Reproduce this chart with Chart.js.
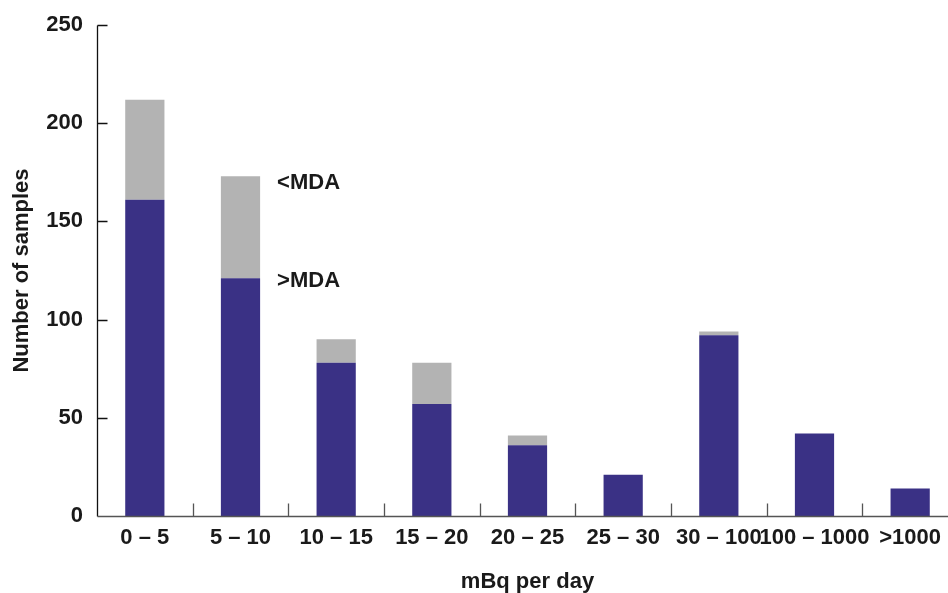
<!DOCTYPE html>
<html>
<head>
<meta charset="utf-8">
<script src="https://cdn.jsdelivr.net/npm/chart.js@4/dist/chart.umd.min.js"></script>
<style>
  html, body { margin: 0; padding: 0; background: #fff; overflow: hidden; width: 948px; height: 593px; }
  #wrap { width: 958px; height: 593px; }
</style>
</head>
<body>
<div id="wrap"><canvas id="c" width="958" height="593"></canvas></div>
<script>
// Daily excretion ranges (mBq per day)
const categories = ['0 – 5', '5 – 10', '10 – 15', '15 – 20', '20 – 25', '25 – 30', '30 – 100', '100 – 1000', '>1000'];
// Samples above the minimum detectable activity
const aboveMda = [161, 121, 78, 57, 36, 21, 92, 42, 14];
// Samples below the minimum detectable activity (stacked on top)
const belowMda = [51, 52, 12, 21, 5, 0, 2, 0, 0];
const yTicks = [0, 50, 100, 150, 200, 250];

const TEXT = '#1a1a1a';
const FONT = { family: '"Liberation Sans", Arial, Helvetica, sans-serif', size: 22, weight: 'bold', lineHeight: 1 };

// Axis lines with inward-pointing tick marks
const axisMarks = {
  id: 'axisMarks',
  afterDatasetsDraw(chart) {
    const { ctx, chartArea: a, scales: { x, y } } = chart;
    const L = Math.round(a.left) + 0.5;
    const B = Math.round(a.bottom) + 0.5;
    ctx.save();
    ctx.lineWidth = 1.3;
    ctx.strokeStyle = '#111';
    ctx.beginPath();
    ctx.moveTo(L, Math.round(y.getPixelForValue(yTicks[yTicks.length - 1])) + 0.5);
    ctx.lineTo(L, B);
    y.ticks.forEach(t => {
      if (t.value === 0) return;
      const py = Math.round(y.getPixelForValue(t.value)) + 0.5;
      ctx.moveTo(L, py);
      ctx.lineTo(L + 10, py);
    });
    ctx.stroke();

    ctx.strokeStyle = '#555';
    ctx.beginPath();
    ctx.moveTo(L, B);
    ctx.lineTo(a.right, B);
    for (let i = 0; i < categories.length - 1; i++) {
      const px = Math.round((x.getPixelForValue(i) + x.getPixelForValue(i + 1)) / 2) + 0.5;
      ctx.moveTo(px, B);
      ctx.lineTo(px, B - 13);
    }
    ctx.stroke();
    ctx.restore();
  }
};

// Series names written beside the second bar's segments
const segmentLabels = {
  id: 'segmentLabels',
  afterDatasetsDraw(chart) {
    const { ctx } = chart;
    const idx = 1;
    const lower = chart.getDatasetMeta(0).data[idx];
    const upper = chart.getDatasetMeta(1).data[idx];
    ctx.save();
    ctx.fillStyle = TEXT;
    ctx.font = `${FONT.weight} ${FONT.size}px ${FONT.family}`;
    ctx.textAlign = 'left';
    ctx.textBaseline = 'middle';
    ctx.fillText(chart.data.datasets[1].label, upper.x + upper.width / 2 + 17, upper.y + 7);
    ctx.fillText(chart.data.datasets[0].label, lower.x + lower.width / 2 + 17, lower.y + 3);
    ctx.restore();
  }
};

new Chart(document.getElementById('c'), {
  type: 'bar',
  data: {
    labels: categories,
    datasets: [
      { label: '>MDA', data: aboveMda, backgroundColor: '#3a3185', stack: 's' },
      { label: '<MDA', data: belowMda, backgroundColor: '#b3b3b3', stack: 's' }
    ]
  },
  options: {
    responsive: false,
    animation: false,
    devicePixelRatio: 1,
    layout: { padding: { top: 24, left: 0, right: 0, bottom: 0 } },
    plugins: { legend: { display: false }, tooltip: { enabled: false } },
    datasets: { bar: { barPercentage: 0.41, categoryPercentage: 1 } },
    scales: {
      x: {
        stacked: true,
        grid: { display: false, drawTicks: false },
        border: { display: false },
        ticks: { autoSkip: false, maxRotation: 0, minRotation: 0, padding: 11, color: TEXT, font: FONT },
        title: { display: true, text: 'mBq per day', color: TEXT, font: FONT, padding: { top: 0, bottom: 0 } },
        afterFit(s) { s.height = 77; }
      },
      y: {
        stacked: true,
        min: 0,
        max: 250,
        grid: { display: false, drawTicks: false },
        border: { display: false },
        afterBuildTicks(s) { s.ticks = yTicks.map(v => ({ value: v })); },
        ticks: { padding: 14, color: TEXT, font: FONT },
        title: { display: true, text: 'Number of samples', color: TEXT, font: FONT, padding: { top: 11, bottom: 0 } },
        afterFit(s) { s.width = 97; }
      }
    }
  },
  plugins: [axisMarks, segmentLabels]
});
</script>
</body>
</html>
